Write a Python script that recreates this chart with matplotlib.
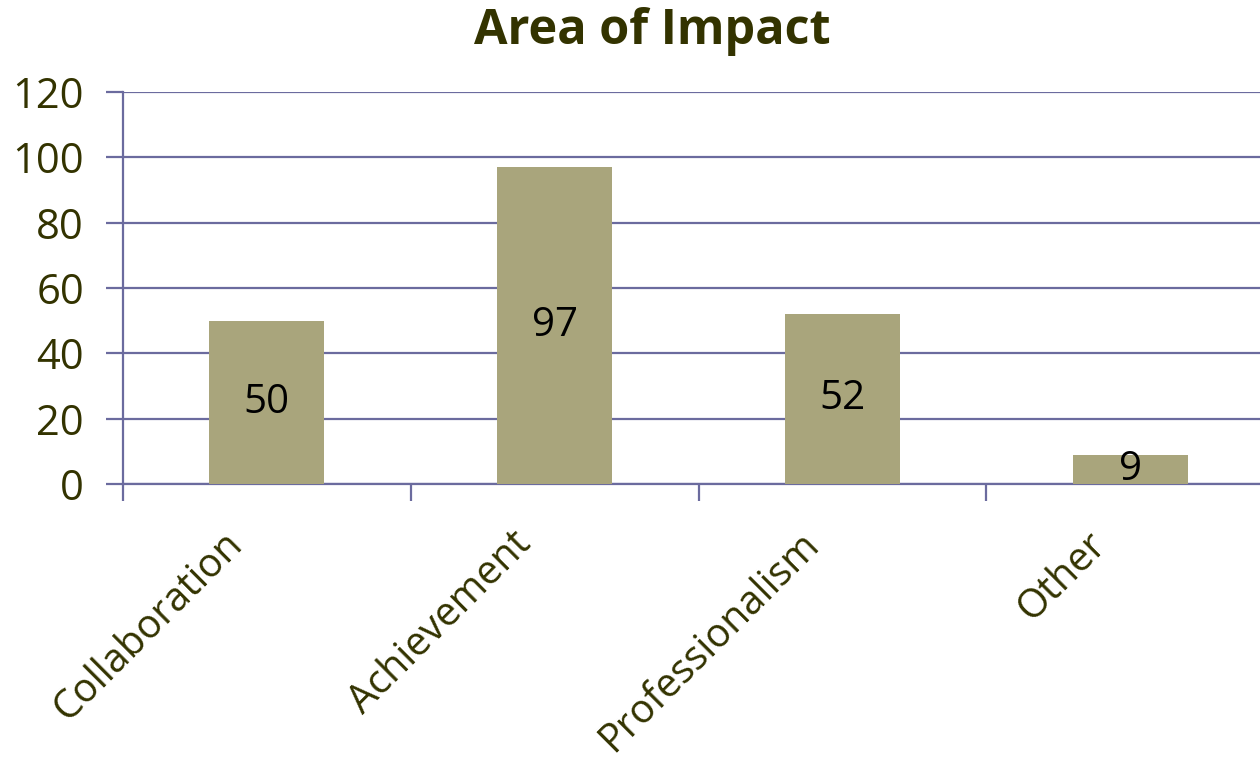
import matplotlib
matplotlib.use("Agg")
import matplotlib.pyplot as plt
import matplotlib.transforms as mtransforms
import numpy as np

categories = ["Collaboration", "Achievement", "Professionalism", "Other"]
values = [50, 97, 52, 9]
y_ticks = [0, 20, 40, 60, 80, 100, 120]

bar_color = "#A9A57C"
grid_color = "#6B6B9E"
text_color = "#333300"

plt.rcParams["font.family"] = ["Open Sans", "DejaVu Sans"]

fig = plt.figure(figsize=(12.6, 7.66), dpi=100)
ax = fig.add_axes([123 / 1260, 282 / 766, 1151 / 1260, 392 / 766])

x = np.arange(len(categories))
ax.bar(x, values, width=0.4, color=bar_color, zorder=3)

for xi, v in zip(x, values):
    ax.text(xi, v / 2, str(v), ha="center", va="center", fontsize=29,
            color="black", zorder=4)

ax.set_xlim(-0.5, len(categories) - 0.5)
ax.set_ylim(0, 120)
ax.set_yticks(y_ticks)
ax.set_yticklabels([str(t) for t in y_ticks], fontsize=30, color=text_color)
ax.yaxis.grid(True, color=grid_color, linewidth=1.6, zorder=1)
ax.set_axisbelow(True)

# category ticks sit on the boundaries between bars
ax.set_xticks(np.arange(-0.5, len(categories) - 0.4, 1.0))
ax.set_xticklabels([])
ax.set_xticks(x, minor=True)
ax.set_xticklabels(categories, minor=True, rotation=45, ha="right",
                   rotation_mode="anchor", fontsize=28.5, color=text_color)
ax.tick_params(axis="x", which="minor", length=0, pad=29)
ax.tick_params(axis="x", which="major", length=12, width=1.6, color=grid_color)
ax.tick_params(axis="y", length=12, width=1.6, color=grid_color, pad=16)

# nudge the slanted category names a little to the left
shift = mtransforms.ScaledTranslation(-44 / 100, 0, fig.dpi_scale_trans)
for lbl in ax.get_xticklabels(minor=True):
    lbl.set_transform(lbl.get_transform() + shift)

for side in ["top", "right"]:
    ax.spines[side].set_visible(False)
ax.spines["left"].set_color(grid_color)
ax.spines["left"].set_linewidth(1.6)
ax.spines["bottom"].set_color(grid_color)
ax.spines["bottom"].set_linewidth(1.6)
ax.spines["left"].set_bounds(0, 120)

fig.text(652 / 1260, 1 - 32 / 766, "Area of Impact", ha="center", va="center",
         fontsize=35, fontweight="bold", color=text_color)

fig.savefig("out.png", dpi=100)
